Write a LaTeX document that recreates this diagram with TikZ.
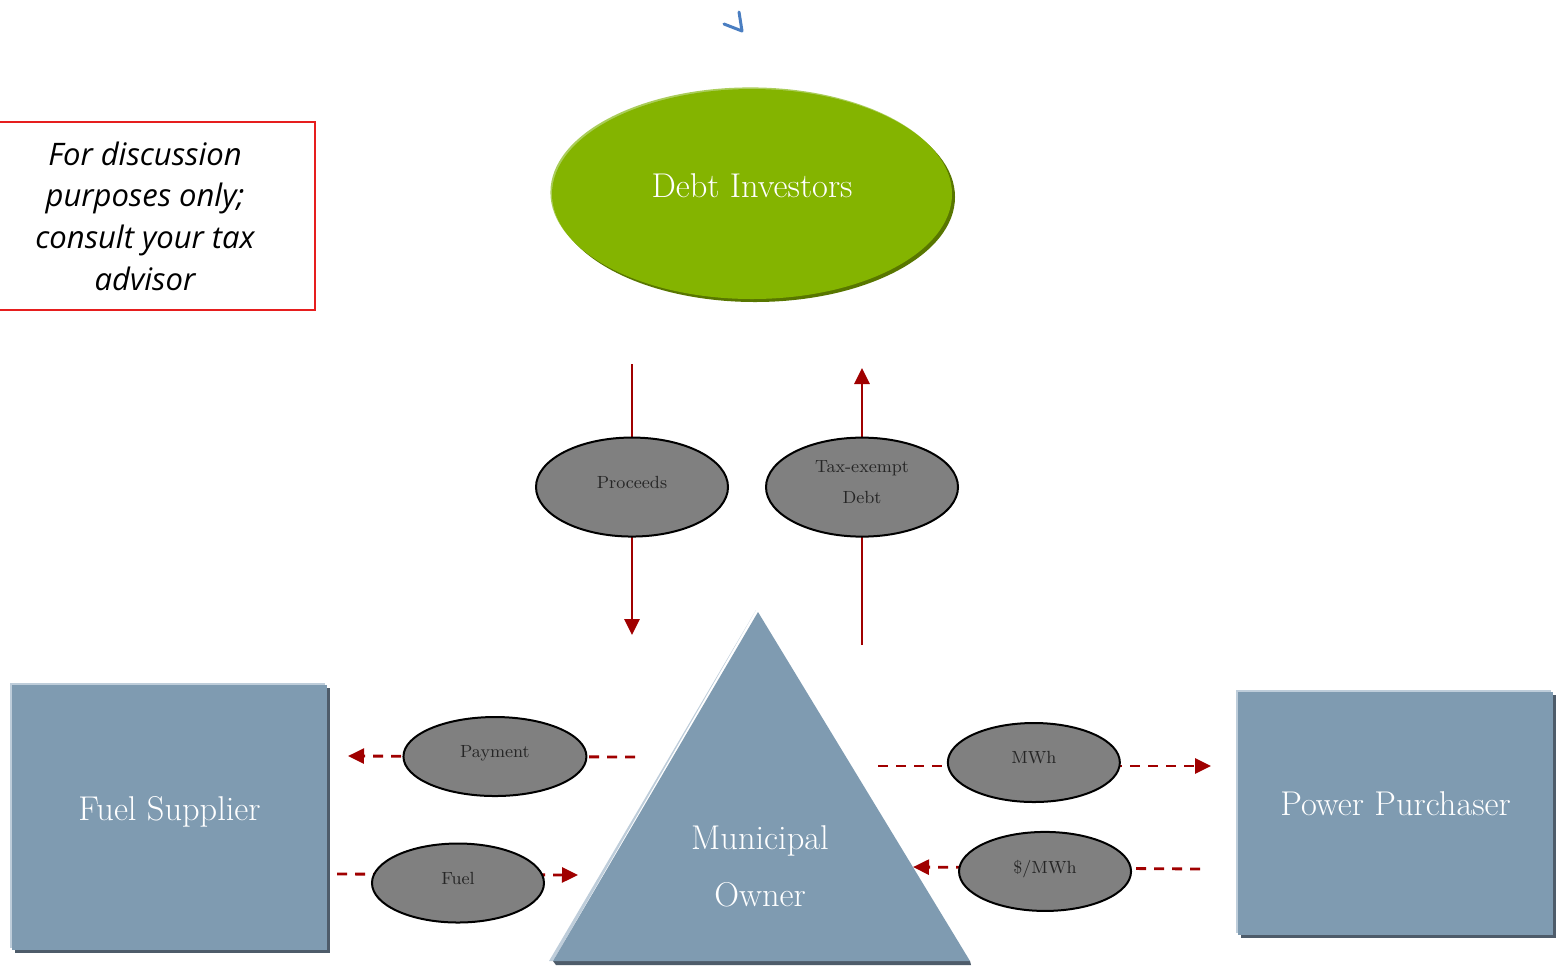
\documentclass[tikz,border=0pt]{standalone}
\usepackage{fontspec}
\newfontfamily\notefont{Open Sans}
\usetikzlibrary{shapes.geometric,arrows.meta,shadows}

\definecolor{investgreen}{RGB}{132,180,0}
\definecolor{investdark}{RGB}{88,118,0}
\definecolor{investlight}{RGB}{170,205,90}
\definecolor{partyblue}{RGB}{127,155,177}
\definecolor{partydark}{RGB}{78,92,106}
\definecolor{partylight}{RGB}{190,205,218}
\definecolor{flowred}{RGB}{160,0,0}
\definecolor{flowgray}{RGB}{128,128,128}
\definecolor{notered}{RGB}{230,30,30}
\definecolor{markblue}{RGB}{74,126,193}

\begin{document}
\begin{tikzpicture}[x=0.5pt, y=-0.5pt, >={Triangle[length=8pt,width=7.5pt]},
    bigtext/.style={text=white, font=\fontsize{17.2}{28.5}\selectfont, align=center},
    party/.style={rectangle, fill=partyblue, inner sep=0pt, minimum width=157.5pt, bigtext,
        text depth=9.5pt,
        general shadow={shadow xshift=-1pt, shadow yshift=1pt, fill=partylight},
        drop shadow={shadow xshift=1.5pt, shadow yshift=-1.5pt, fill=partydark, opacity=1}},
    flowlbl/.style={ellipse, solid, draw=black, line width=1pt, fill=flowgray, inner sep=0pt,
        minimum width=86pt, minimum height=39.5pt, text=black!85, align=center,
        text depth=5pt, font=\fontsize{8.8}{15.5}\selectfont},
    flow/.style={draw=flowred, line width=1.4pt},
    dflow/.style={flow, dash pattern=on 5pt off 4pt}]

        \useasboundingbox (0,0) rectangle (1556,966);

        % Nodes
        \node[ellipse, fill=investgreen, minimum width=200pt, minimum height=105pt, bigtext,
            text depth=8pt,
            general shadow={shadow xshift=-0.8pt, shadow yshift=0.8pt, fill=investlight},
            drop shadow={shadow xshift=1.5pt, shadow yshift=-1.5pt, fill=investdark, opacity=1}]
            (investors) at (752,194) {Debt Investors};

        \node[party, minimum height=132.5pt] (supplier) at (169.5,817.5) {Fuel Supplier};
        \node[party, minimum height=121.5pt] (purchaser) at (1395.5,813.5) {Power Purchaser};

        \fill[partylight] (756,610) -- (549,961) -- (553,961) -- cycle;
        \fill[partydark] (553,961) -- (970,961) -- (971,965) -- (556,965) -- cycle;
        \fill[partyblue] (758,612) -- (553,961) -- (970,961) -- cycle;
        \node[bigtext] (owner) at (760,866) {Municipal\\Owner};

        \node[draw=notered, line width=0.8pt, minimum width=170pt, minimum height=94pt,
            inner sep=0pt, align=center, font=\notefont\itshape\fontsize{15.5}{20.8}\selectfont]
            (note) at (145,216) {For discussion\\purposes only;\\consult your tax\\advisor};

        % Edges
        \coordinate (procA) at (632,364);
        \coordinate (procB) at (632,635);
        \coordinate (debtA) at (862,645);
        \coordinate (debtB) at (862,368);
        \coordinate (payA) at (635,757);
        \coordinate (payB) at (348,756);
        \coordinate (fuelA) at (337,874);
        \coordinate (fuelB) at (578,875);
        \coordinate (mwhA) at (878,766);
        \coordinate (mwhB) at (1211,766);
        \coordinate (priceA) at (1200,869);
        \coordinate (priceB) at (913,867);

        \draw[flow, ->] (procA) -- node[flowlbl, pos=0.454, minimum width=96pt, minimum height=49.5pt] (proceeds) {Proceeds} (procB);
        \draw[flow, ->] (debtA) -- node[flowlbl, pos=0.570, minimum width=96pt, minimum height=49.5pt] (debt) {Tax-exempt\\Debt} (debtB);
        \draw[dflow, ->] (payA) -- node[flowlbl, pos=0.488, minimum width=91.5pt] (payment) {Payment} (payB);
        \draw[dflow, ->] (fuelA) -- node[flowlbl, pos=0.502, yshift=-4.25pt] (fuel) {Fuel} (fuelB);
        \draw[dflow, ->] (mwhA) -- node[flowlbl, pos=0.468, yshift=1.75pt] (mwh) {MWh} (mwhB);
        \draw[dflow, ->] (priceA) -- node[flowlbl, pos=0.540, yshift=-1.75pt] (price) {\$/MWh} (priceB);

        % Stray mark
        \draw[markblue, line width=1.5pt, line cap=round, line join=round] (724,24) -- (742,31) -- (739,12);

    \end{tikzpicture}
\end{document}
